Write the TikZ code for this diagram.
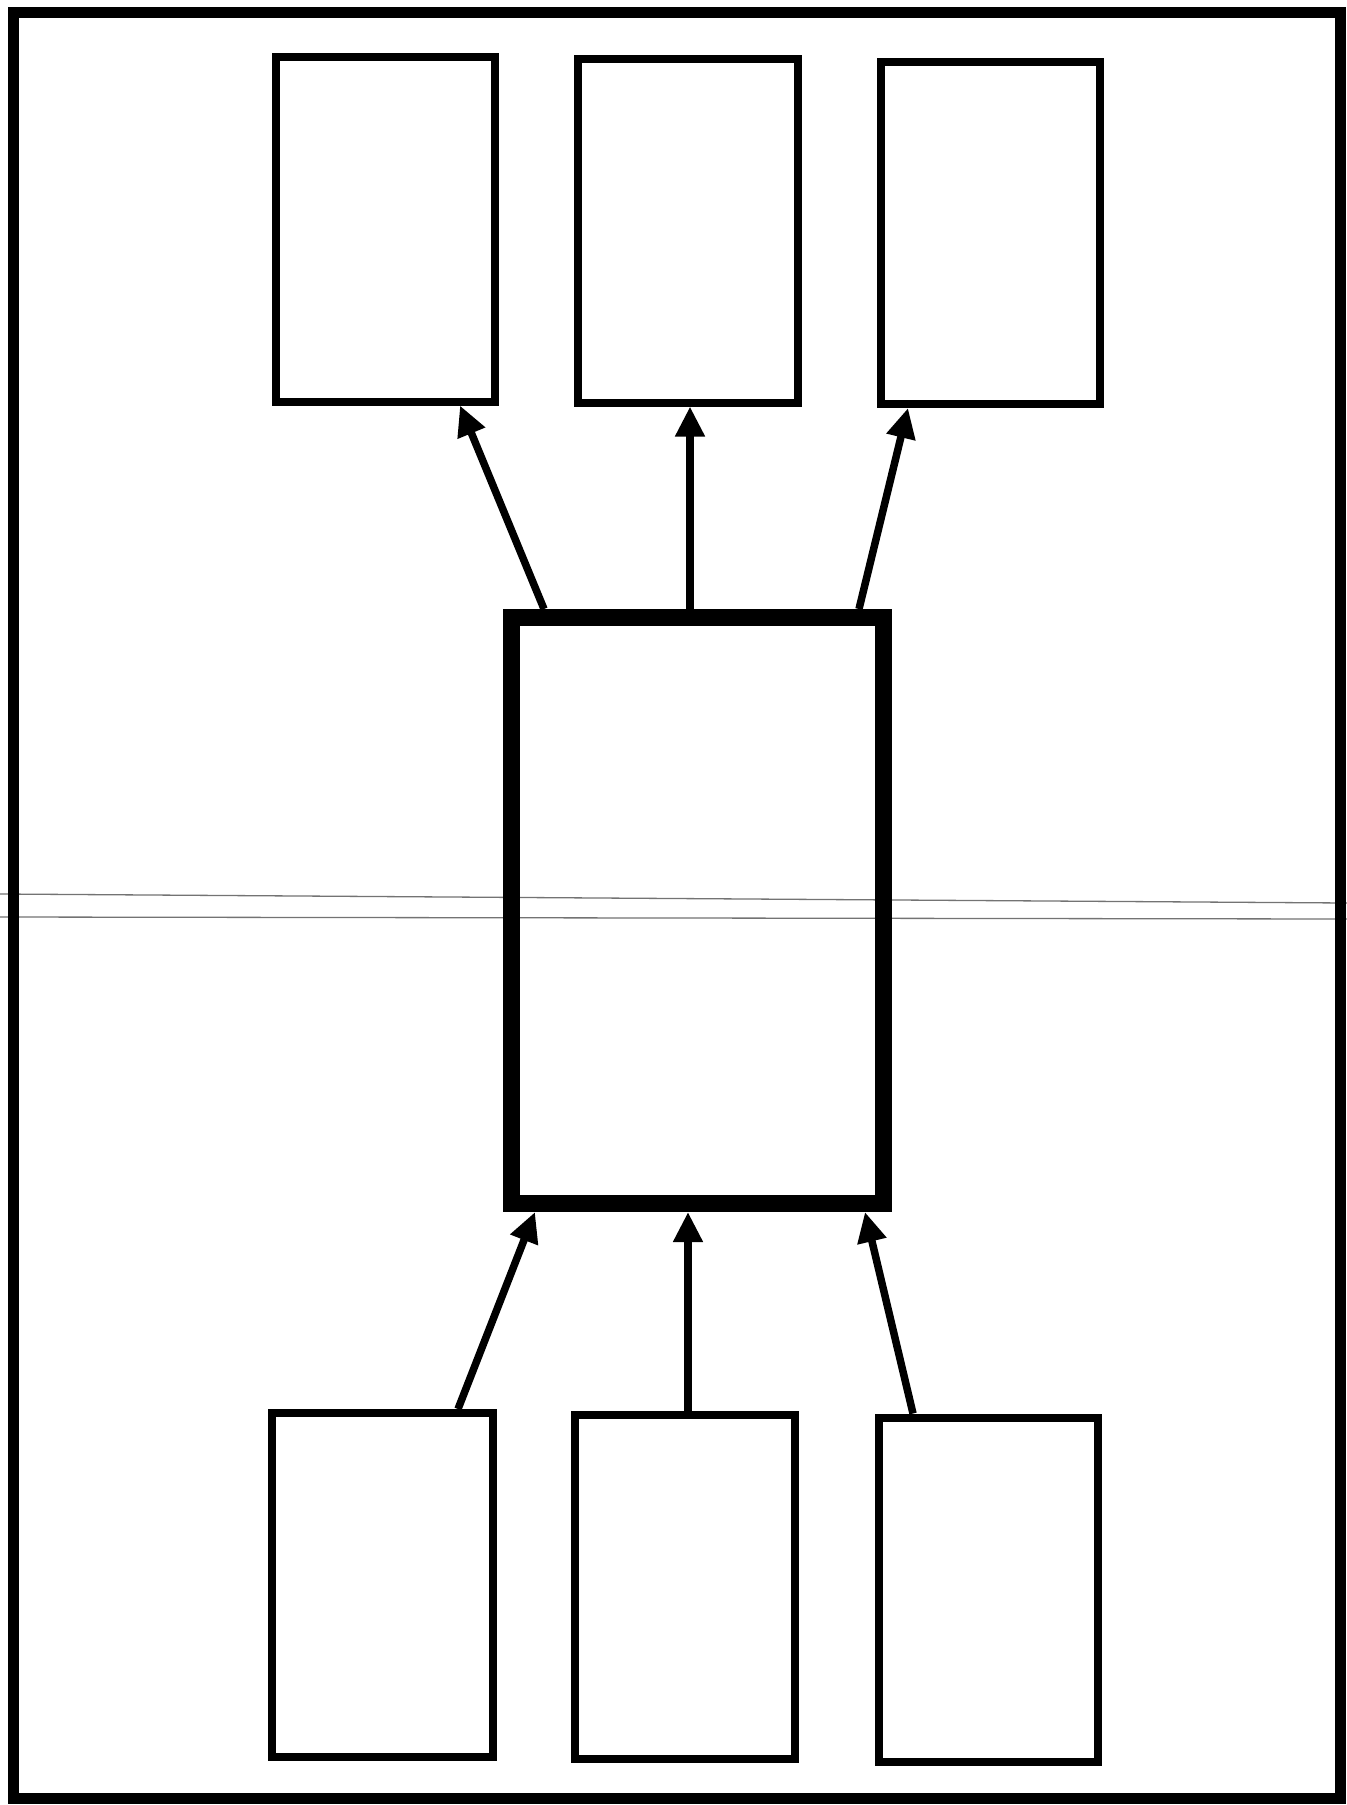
\documentclass[tikz,border=0pt]{standalone}
\usetikzlibrary{arrows.meta}
\begin{document}
\begin{tikzpicture}[x=1pt,y=-1pt,
  box/.style={draw=black,line width=8pt,rectangle,inner sep=0pt,fill=none},
  bigbox/.style={draw=black,line width=17pt,rectangle,inner sep=0pt},
  conn/.style={line width=7.5pt,-{Triangle[length=30pt,width=28pt]}},
  scanline/.style={draw=black!55,line width=1.3pt}]
\useasboundingbox (0,0) rectangle (1347,1805);
\fill[white] (0,0) rectangle (1347,1805);
% scan lines
\coordinate (s1a) at (0,894);
\coordinate (s1b) at (1347,903);
\coordinate (s2a) at (0,917);
\coordinate (s2b) at (1347,919);
\draw[scanline] (s1a) -- (s1b);
\draw[scanline] (s2a) -- (s2b);
% outer frame
\draw[line width=11pt] (13.5,12) rectangle (1340,1798);
% boxes
\node[box,minimum width=219pt,minimum height=344.5pt] (t1) at (385,229.25) {};
\node[box,minimum width=220pt,minimum height=343.5pt] (t2) at (688,230.75) {};
\node[box,minimum width=219pt,minimum height=342.5pt] (t3) at (990.5,232.75) {};
\node[bigbox,minimum width=372pt,minimum height=586pt] (m) at (697,910.5) {};
\node[box,minimum width=221pt,minimum height=344pt] (b1) at (382.5,1585) {};
\node[box,minimum width=220pt,minimum height=344pt] (b2) at (685,1587) {};
\node[box,minimum width=219pt,minimum height=344pt] (b3) at (988.5,1589.5) {};
% connectors
\draw[conn] ([xshift=-153pt]m.north) -- ([xshift=75pt]t1.south);
\draw[conn] ([xshift=-7pt]m.north) -- ([xshift=2pt]t2.south);
\draw[conn] ([xshift=162pt]m.north) -- ([xshift=-82.5pt]t3.south);
\draw[conn] ([xshift=75.5pt]b1.north) -- ([xshift=-162pt]m.south);
\draw[conn] ([xshift=3pt]b2.north) -- ([xshift=-9pt]m.south);
\draw[conn] ([xshift=-75.5pt]b3.north) -- ([xshift=168pt]m.south);
\end{tikzpicture}
\end{document}
